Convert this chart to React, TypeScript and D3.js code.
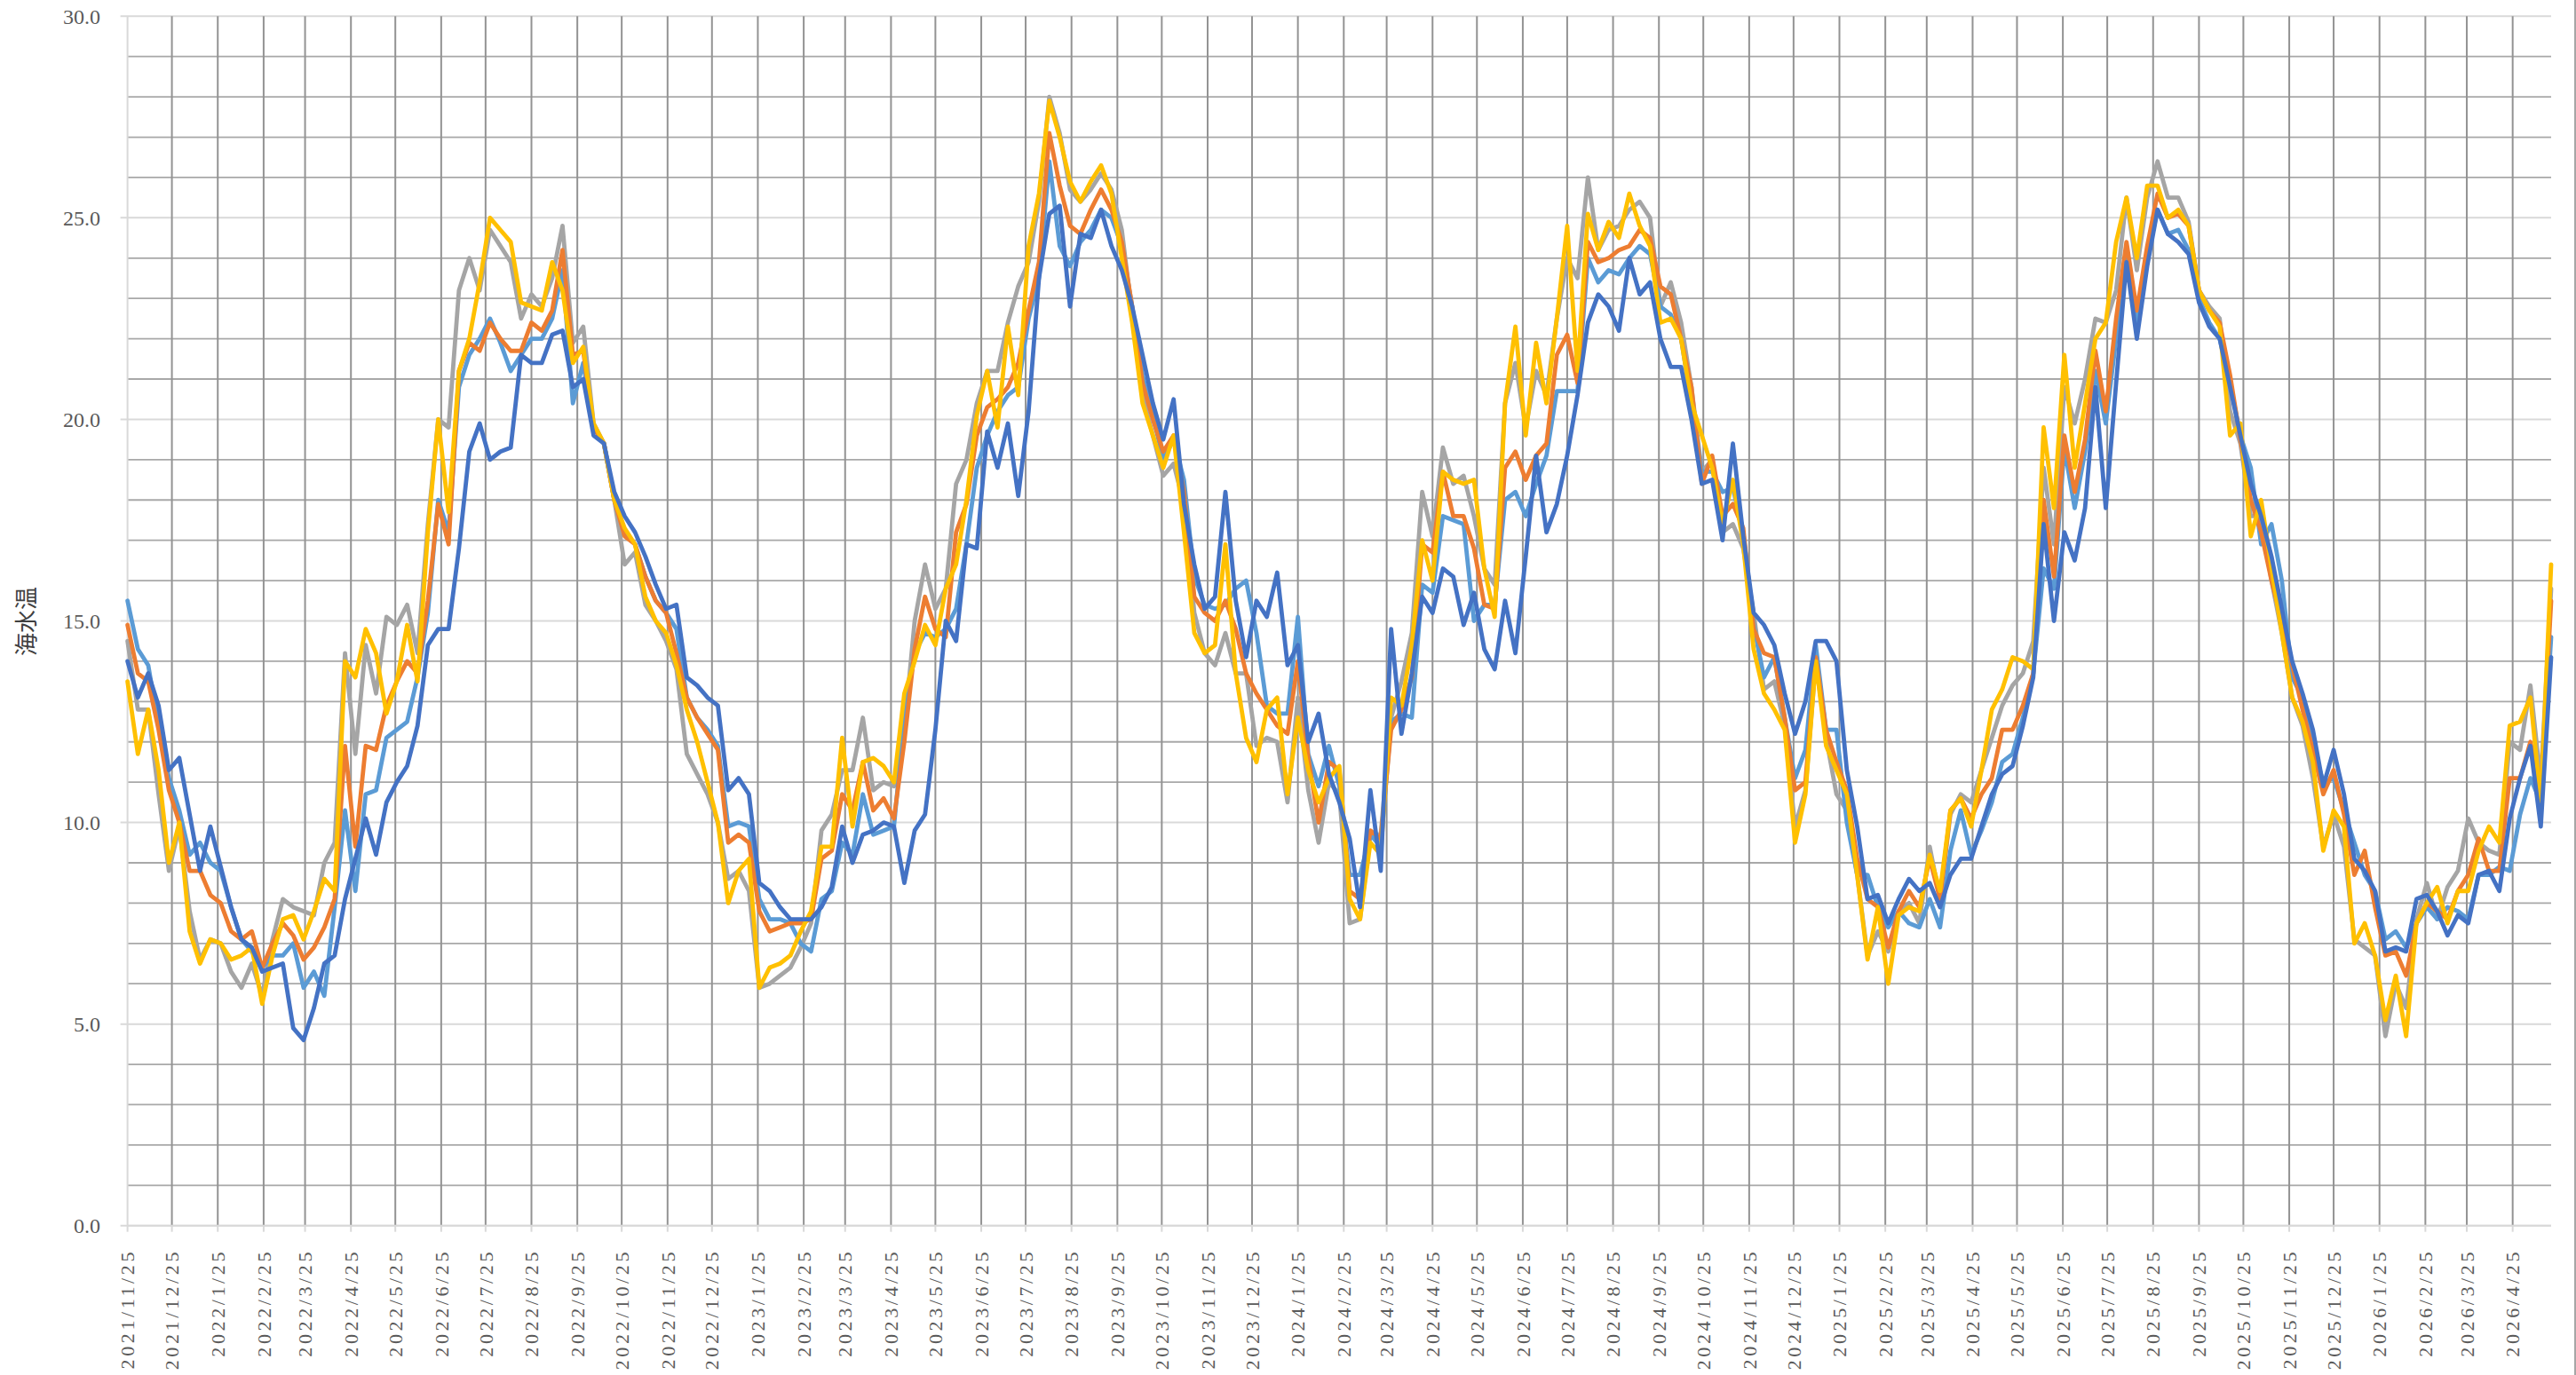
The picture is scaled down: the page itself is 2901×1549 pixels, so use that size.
import React, { Component } from 'react';
import * as d3 from 'd3';

// weekly sea water temperature samples, first sample on the first month tick
const startDate = '2021/11/25';
const endDate = '2026/5/21';
const stepDays = 7;

const yTicks = [0, 5, 10, 15, 20, 25, 30];

const monthTicks = [
    '2021/11/25', '2021/12/25',
    '2022/1/25', '2022/2/25', '2022/3/25', '2022/4/25', '2022/5/25', '2022/6/25',
    '2022/7/25', '2022/8/25', '2022/9/25', '2022/10/25', '2022/11/25', '2022/12/25',
    '2023/1/25', '2023/2/25', '2023/3/25', '2023/4/25', '2023/5/25', '2023/6/25',
    '2023/7/25', '2023/8/25', '2023/9/25', '2023/10/25', '2023/11/25', '2023/12/25',
    '2024/1/25', '2024/2/25', '2024/3/25', '2024/4/25', '2024/5/25', '2024/6/25',
    '2024/7/25', '2024/8/25', '2024/9/25', '2024/10/25', '2024/11/25', '2024/12/25',
    '2025/1/25', '2025/2/25', '2025/3/25', '2025/4/25', '2025/5/25', '2025/6/25',
    '2025/7/25', '2025/8/25', '2025/9/25', '2025/10/25', '2025/11/25', '2025/12/25',
    '2026/1/25', '2026/2/25', '2026/3/25', '2026/4/25'
];

const grayTemps = [
    14.5, 12.8, 12.8, 10.7, 8.8, 9.9, 7.8, 6.6, 7.1, 7.0, 6.3, 5.9, 6.5, 5.7, 7.1, 8.1, 7.9, 7.8, 7.7, 9.0,
    9.5, 14.2, 11.7, 14.4, 13.2, 15.1, 14.9, 15.4, 14.2, 17.4, 20.0, 19.8, 23.2, 24.0, 23.2, 24.7, 24.3, 23.9, 22.5, 23.1,
    22.8, 23.5, 24.8, 21.9, 22.3, 19.9, 19.4, 18.0, 16.4, 16.7, 15.4, 15.0, 14.5, 13.8, 11.7, 11.2, 10.7, 10.0, 8.6, 8.8,
    8.3, 5.9, 6.0, 6.2, 6.4, 6.9, 7.5, 9.8, 10.2, 11.3, 11.3, 12.6, 10.8, 11.0, 10.9, 12.3, 15.0,
    16.4, 15.3, 15.8, 18.4, 19.0, 20.4, 21.2, 21.2, 22.4, 23.3, 23.9, 25.4, 28.0, 27.1, 25.7, 25.4, 25.7, 26.1, 25.7, 24.7,
    22.6, 20.6, 19.6, 18.6, 18.9, 17.9, 15.2, 14.2, 13.9, 14.7, 13.7, 13.7, 11.9, 12.1, 12.0, 10.5, 13.1, 10.8, 9.5, 11.0,
    10.7, 7.5, 7.6, 9.7, 9.7, 12.6, 13.5, 14.7, 18.2, 17.1, 19.3, 18.4, 18.6, 17.6, 16.3, 15.9, 20.4, 21.4, 19.8, 21.2,
    20.6, 22.5, 24.0, 23.5, 26.0, 24.2, 24.7, 24.8, 25.2, 25.4, 25.0, 22.8, 23.4, 22.4, 20.8, 18.7, 19.0, 17.2, 17.4,
    16.8, 15.2, 13.3, 13.5, 12.4, 9.9, 10.8, 14.0, 12.1, 10.7, 10.3, 8.7, 6.7, 7.3, 6.8, 7.8, 8.0, 7.5, 9.4, 8.1,
    10.2, 10.7, 10.5, 11.3, 12.1, 12.9, 13.4, 13.7, 14.5, 18.8, 16.9, 20.8, 19.9, 21.0, 22.5, 22.4, 23.2, 25.5,
    23.7, 25.5, 26.4, 25.5, 25.5, 24.9, 23.2, 22.8, 22.5, 20.2, 19.4, 17.6, 17.6, 16.0, 14.7, 13.1, 12.4, 11.1, 9.4, 10.2,
    9.4, 7.1, 6.9, 6.7, 4.7, 6.0, 5.4, 7.6, 8.5, 7.6, 8.4, 8.8, 10.1, 9.5, 9.3, 9.2, 12.0, 11.8, 13.4, 11.0, 15.8
];

const lightBlueTemps = [
    15.5, 14.3, 13.9, 12.4, 11.1, 10.3, 9.2, 9.5, 9.0, 8.8, 7.9, 7.1, 6.8, 6.4, 6.7, 6.7, 7.0, 5.9, 6.3, 5.7,
    7.9, 10.3, 8.3, 10.7, 10.8, 12.1, 12.3, 12.5, 13.6, 15.2, 18.0, 17.2, 20.8, 21.6, 22.0, 22.5, 21.9, 21.2, 21.6, 22.0,
    22.0, 22.5, 23.7, 20.4, 21.4, 19.8, 19.4, 18.0, 17.2, 16.9, 16.1, 15.5, 15.2, 14.8, 13.1, 12.6, 12.3, 11.9, 9.9, 10.0,
    9.9, 8.1, 7.6, 7.6, 7.5, 7.0, 6.8, 8.1, 8.3, 9.5, 9.2, 10.7, 9.7, 9.8, 9.9, 12.6, 14.2,
    14.7, 14.6, 14.8, 15.3, 16.9, 18.8, 19.6, 20.2, 20.6, 20.8, 22.5, 23.5, 26.4, 24.3, 23.8, 24.4, 24.7, 25.2, 25.0, 24.3,
    22.8, 21.1, 20.1, 19.0, 19.5, 18.5, 16.1, 15.4, 15.3, 15.4, 15.8, 16.0, 14.7, 12.9, 12.7, 12.7, 15.1, 11.7, 10.9, 11.9,
    10.9, 8.7, 8.7, 9.7, 9.4, 12.5, 12.7, 12.6, 15.9, 15.7, 17.6, 17.5, 17.4, 15.0, 15.4, 15.4, 18.0, 18.2, 17.6, 18.4,
    19.1, 20.7, 20.7, 20.7, 24.0, 23.4, 23.7, 23.6, 24.0, 24.3, 24.1, 22.8, 22.6, 22.0, 20.4, 18.7, 18.7, 18.2, 18.3,
    17.2, 14.9, 13.6, 14.1, 12.6, 11.1, 11.8, 14.4, 12.3, 12.3, 10.0, 8.7, 8.7, 7.9, 7.4, 7.8, 7.5, 7.4, 8.1, 7.4,
    9.3, 10.3, 9.2, 9.8, 10.5, 11.5, 11.7, 12.6, 13.7, 16.3, 15.8, 19.3, 17.8, 19.2, 21.2, 19.9, 22.0, 24.0,
    22.4, 24.0, 25.2, 24.6, 24.7, 24.2, 23.0, 22.4, 22.0, 20.9, 19.6, 18.8, 16.9, 17.4, 16.0, 13.6, 13.1, 11.9, 11.0, 11.1,
    10.3, 9.5, 8.7, 8.3, 7.1, 7.3, 6.9, 7.5, 7.9, 7.6, 7.9, 7.8, 7.6, 8.7, 8.7, 8.9, 8.8, 10.2, 11.1, 10.5, 14.6
];

const orangeTemps = [
    14.9, 13.7, 13.5, 12.3, 10.8, 10.0, 8.8, 8.8, 8.2, 8.0, 7.3, 7.1, 7.3, 6.4, 7.0, 7.5, 7.2, 6.6, 6.9, 7.4,
    8.1, 11.9, 9.4, 11.9, 11.8, 12.9, 13.5, 14.0, 13.7, 15.5, 17.9, 16.9, 21.2, 21.9, 21.7, 22.4, 22.0, 21.7, 21.7, 22.4,
    22.2, 22.7, 24.2, 21.6, 21.7, 19.8, 19.4, 18.0, 17.1, 16.9, 16.1, 15.5, 15.2, 14.2, 13.1, 12.6, 12.2, 11.8, 9.5, 9.7,
    9.5, 7.8, 7.3, 7.4, 7.5, 7.5, 7.6, 9.1, 9.3, 10.7, 10.3, 11.5, 10.3, 10.6, 10.1, 12.0, 14.3,
    15.6, 14.8, 14.6, 17.2, 17.9, 19.6, 20.3, 20.5, 20.8, 21.4, 22.7, 23.9, 27.1, 25.8, 24.8, 24.6, 25.2, 25.7, 25.2, 24.4,
    22.8, 20.9, 20.0, 19.2, 19.6, 18.2, 15.6, 15.2, 15.0, 15.5, 14.8, 13.7, 13.2, 12.8, 12.4, 12.2, 14.0, 11.6, 10.0, 11.5,
    11.3, 8.3, 8.1, 9.8, 9.6, 12.3, 12.8, 13.6, 16.9, 16.7, 18.7, 17.6, 17.6, 16.8, 15.4, 15.3, 18.8, 19.2, 18.5, 19.1,
    19.4, 21.6, 22.1, 20.9, 24.4, 23.9, 24.0, 24.2, 24.3, 24.7, 24.5, 23.3, 23.1, 22.0, 20.8, 18.4, 19.1, 17.6, 17.9,
    17.3, 14.8, 14.2, 14.1, 12.6, 10.8, 11.0, 14.1, 12.3, 11.5, 10.8, 9.1, 8.1, 7.9, 6.9, 7.8, 8.3, 7.9, 9.1, 8.1,
    10.3, 10.6, 10.1, 10.7, 11.1, 12.3, 12.3, 12.9, 13.7, 18.0, 16.1, 19.6, 18.2, 19.5, 21.7, 20.2, 22.5, 24.4,
    22.7, 24.3, 25.6, 25.0, 25.1, 24.8, 23.2, 22.7, 22.4, 21.1, 19.5, 18.0, 17.2, 16.0, 15.0, 13.9, 12.8, 11.8, 10.7, 11.3,
    10.2, 8.7, 9.3, 7.9, 6.7, 6.8, 6.2, 7.5, 8.0, 7.8, 7.6, 8.3, 8.7, 9.6, 8.8, 8.8, 11.1, 11.1, 12.0, 10.7, 15.5
];

const yellowTemps = [
    13.5, 11.7, 12.8, 11.3, 9.0, 10.0, 7.3, 6.5, 7.1, 7.0, 6.6, 6.7, 6.9, 5.5, 6.7, 7.6, 7.7, 7.1, 7.8, 8.6,
    8.3, 14.0, 13.6, 14.8, 14.2, 12.7, 13.5, 14.9, 13.5, 17.2, 20.0, 17.7, 21.2, 22.0, 23.4, 25.0, 24.7, 24.4, 22.9, 22.8,
    22.7, 23.9, 23.2, 21.4, 21.8, 19.9, 19.4, 18.0, 17.3, 16.9, 15.6, 15.0, 14.7, 13.9, 12.8, 12.0, 11.0, 10.0, 8.0, 8.8,
    9.1, 5.9, 6.4, 6.5, 6.7, 7.3, 7.8, 9.4, 9.4, 12.1, 9.9, 11.5, 11.6, 11.4, 11.0, 13.2, 14.0,
    14.9, 14.4, 15.8, 16.4, 18.0, 20.1, 21.2, 19.8, 22.3, 20.6, 24.3, 25.6, 27.9, 27.0, 25.9, 25.4, 25.9, 26.3, 25.6, 24.0,
    22.4, 20.4, 19.6, 18.8, 19.6, 17.2, 14.7, 14.2, 14.4, 16.9, 13.7, 12.1, 11.5, 12.8, 13.1, 10.7, 12.6, 11.3, 10.5, 11.1,
    11.4, 8.1, 7.6, 9.5, 9.2, 13.1, 12.9, 14.4, 17.0, 16.0, 18.7, 18.5, 18.4, 18.5, 16.3, 15.1, 20.4, 22.3, 19.6, 21.9,
    20.4, 22.5, 24.8, 21.2, 25.1, 24.2, 24.9, 24.5, 25.6, 24.8, 24.3, 22.4, 22.5, 22.0, 20.4, 19.6, 18.8, 17.4, 18.5,
    16.9, 14.3, 13.2, 12.8, 12.3, 9.5, 10.7, 14.0, 11.9, 11.3, 10.7, 8.7, 6.6, 7.9, 6.0, 7.7, 7.9, 7.8, 9.2, 8.3,
    10.3, 10.6, 9.9, 11.3, 12.8, 13.3, 14.1, 14.0, 13.8, 19.8, 17.8, 21.6, 18.8, 20.4, 22.0, 22.4, 24.4, 25.5,
    24.0, 25.8, 25.8, 25.0, 25.2, 24.8, 23.2, 22.7, 22.3, 19.6, 19.9, 17.1, 18.0, 16.3, 14.7, 13.1, 12.5, 11.5, 9.3, 10.3,
    9.9, 7.0, 7.5, 6.7, 5.1, 6.2, 4.7, 7.5, 8.0, 8.4, 7.5, 8.3, 8.3, 9.3, 9.9, 9.5, 12.4, 12.5, 13.1, 10.5, 16.4
];

const blueTemps = [
    14.0, 13.1, 13.7, 12.9, 11.3, 11.6, 10.2, 8.8, 9.9, 8.9, 7.9, 7.1, 6.9, 6.3, 6.4, 6.5, 4.9, 4.6, 5.4, 6.5,
    6.7, 8.1, 9.1, 10.1, 9.2, 10.5, 11.0, 11.4, 12.4, 14.4, 14.8, 14.8, 16.8, 19.2, 19.9, 19.0, 19.2, 19.3, 21.6, 21.4,
    21.4, 22.1, 22.2, 20.8, 21.0, 19.6, 19.4, 18.2, 17.6, 17.2, 16.6, 15.9, 15.3, 15.4, 13.6, 13.4, 13.1, 12.9, 10.8, 11.1,
    10.7, 8.5, 8.3, 7.9, 7.6, 7.6, 7.6, 7.9, 8.4, 9.9, 9.0, 9.7, 9.8, 10.0, 9.9, 8.5, 9.8,
    10.2, 12.3, 15.0, 14.5, 16.9, 16.8, 19.7, 18.8, 19.9, 18.1, 20.2, 23.5, 25.1, 25.3, 22.8, 24.6, 24.5, 25.2, 24.3, 23.7,
    22.8, 21.6, 20.4, 19.5, 20.5, 17.9, 16.4, 15.3, 15.6, 18.2, 15.5, 14.1, 15.5, 15.1, 16.2, 13.9, 14.4, 12.0, 12.7, 11.2,
    10.5, 9.6, 7.9, 10.8, 8.8, 14.8, 12.2, 13.7, 15.6, 15.2, 16.3, 16.1, 14.9, 15.7, 14.3, 13.8, 15.5, 14.2, 16.6, 19.1,
    17.2, 17.9, 19.1, 20.6, 22.4, 23.1, 22.8, 22.2, 24.0, 23.1, 23.4, 22.0, 21.3, 21.3, 20.0, 18.4, 18.5, 17.0, 19.4,
    17.1, 15.2, 14.9, 14.4, 13.2, 12.2, 13.0, 14.5, 14.5, 14.0, 11.3, 9.9, 8.1, 8.2, 7.5, 8.1, 8.6, 8.3, 8.5, 7.9,
    8.7, 9.1, 9.1, 9.9, 10.7, 11.2, 11.4, 12.4, 13.6, 17.4, 15.0, 17.2, 16.5, 17.8, 20.8, 17.8, 20.9, 23.9,
    22.0, 23.8, 25.2, 24.6, 24.4, 24.1, 22.9, 22.3, 22.0, 20.8, 19.6, 18.4, 17.6, 16.6, 15.3, 14.0, 13.2, 12.3, 10.9, 11.8,
    10.7, 9.1, 8.8, 8.3, 6.8, 6.9, 6.8, 8.1, 8.2, 7.8, 7.2, 7.7, 7.5, 8.7, 8.8, 8.3, 10.1, 11.1, 11.9, 9.9, 14.1
];

const seriesList = [
    { key: 'gray', color: '#A5A5A5', values: grayTemps },
    { key: 'lightblue', color: '#5B9BD5', values: lightBlueTemps },
    { key: 'orange', color: '#ED7D31', values: orangeTemps },
    { key: 'yellow', color: '#FFC000', values: yellowTemps },
    { key: 'blue', color: '#4472C4', values: blueTemps }
];

const parseDate = (s: string) => {
    const [y, m, d] = s.split('/').map(Number);
    return new Date(Date.UTC(y, m - 1, d));
};

class SeaTempChart extends Component {
    svgRef = React.createRef<SVGSVGElement>();
    width = 2901;
    height = 1549;

    componentDidMount() {
        this.draw();
    }

    draw() {
        const svg = d3.select(this.svgRef.current);
        svg.selectAll('*').remove();

        const plot = { left: 143.6, right: 2873, top: 18.3, bottom: 1380.7 };
        const numFont = "'Liberation Serif', 'DejaVu Serif', serif";

        const x = d3.scaleUtc()
            .domain([parseDate(startDate), parseDate(endDate)])
            .range([plot.left, plot.right]);
        const y = d3.scaleLinear()
            .domain([0, 30])
            .range([plot.bottom, plot.top]);

        svg.append('rect')
            .attr('width', this.width)
            .attr('height', this.height)
            .attr('fill', '#fff');

        // horizontal grid: light major lines every 5, darker minor lines every 1
        const minor = d3.range(1, 30).filter(v => v % 5 !== 0);
        svg.append('g').selectAll('line')
            .data(yTicks)
            .enter().append('line')
            .attr('x1', plot.left - 8)
            .attr('x2', plot.right)
            .attr('y1', d => y(d))
            .attr('y2', d => y(d))
            .attr('stroke', '#d9d9d9')
            .attr('stroke-width', 2);
        svg.append('g').selectAll('line')
            .data(minor)
            .enter().append('line')
            .attr('x1', plot.left)
            .attr('x2', plot.right)
            .attr('y1', d => y(d))
            .attr('y2', d => y(d))
            .attr('stroke', '#a8a8a8')
            .attr('stroke-width', 1.8);

        const tickDates = monthTicks.map(parseDate);

        // month grid lines (the first one sits on the axis line)
        svg.append('g').selectAll('line')
            .data(tickDates.slice(1))
            .enter().append('line')
            .attr('x1', d => x(d))
            .attr('x2', d => x(d))
            .attr('y1', plot.top)
            .attr('y2', plot.bottom)
            .attr('stroke', '#939393')
            .attr('stroke-width', 2);

        // axis lines + small ticks below
        svg.append('line')
            .attr('x1', plot.left).attr('x2', plot.left)
            .attr('y1', plot.top).attr('y2', plot.bottom)
            .attr('stroke', '#d9d9d9').attr('stroke-width', 2);
        svg.append('line')
            .attr('x1', plot.left).attr('x2', plot.right)
            .attr('y1', plot.bottom).attr('y2', plot.bottom)
            .attr('stroke', '#d9d9d9').attr('stroke-width', 2);
        svg.append('g').selectAll('line')
            .data(tickDates)
            .enter().append('line')
            .attr('x1', d => x(d))
            .attr('x2', d => x(d))
            .attr('y1', plot.bottom)
            .attr('y2', plot.bottom + 7)
            .attr('stroke', '#d9d9d9')
            .attr('stroke-width', 2);

        // y labels
        svg.append('g').selectAll('text')
            .data(yTicks)
            .enter().append('text')
            .attr('x', 113)
            .attr('y', d => y(d))
            .attr('dy', '0.35em')
            .attr('text-anchor', 'end')
            .attr('font-family', numFont)
            .attr('font-size', 24)
            .attr('fill', '#595959')
            .text(d => d.toFixed(1));

        // x labels, vertical
        svg.append('g').selectAll('text')
            .data(monthTicks)
            .enter().append('text')
            .attr('transform', (d, i) => `translate(${x(tickDates[i])},1407) rotate(-90)`)
            .attr('dy', '0.35em')
            .attr('text-anchor', 'end')
            .attr('font-family', numFont)
            .attr('font-size', 22)
            .attr('letter-spacing', 3.6)
            .attr('fill', '#595959')
            .text(d => d);

        svg.append('text')
            .attr('transform', 'translate(30,700) rotate(-90)')
            .attr('dy', '0.35em')
            .attr('text-anchor', 'middle')
            .attr('font-family', "'Noto Sans CJK JP', sans-serif")
            .attr('font-size', 26)
            .attr('fill', '#404040')
            .text('海水温');

        const start = parseDate(startDate);
        const line = d3.line<number>()
            .x((d, i) => x(d3.utcDay.offset(start, i * stepDays)))
            .y(d => y(d));

        svg.append('g').selectAll('path')
            .data(seriesList)
            .enter().append('path')
            .attr('d', d => line(d.values))
            .attr('fill', 'none')
            .attr('stroke', d => d.color)
            .attr('stroke-width', 4.8)
            .attr('stroke-linejoin', 'round')
            .attr('stroke-linecap', 'round');

        // outer chart border on the right
        svg.append('line')
            .attr('x1', 2900).attr('x2', 2900)
            .attr('y1', 0).attr('y2', this.height)
            .attr('stroke', '#a6a6a6').attr('stroke-width', 2);
    }

    render() {
        return (
            <svg ref={this.svgRef} width={this.width} height={this.height}
                style={{ position: 'absolute', left: 0, top: 0, display: 'block' }}></svg>
        );
    }
}

export default function App() {
    return <SeaTempChart />;
}
